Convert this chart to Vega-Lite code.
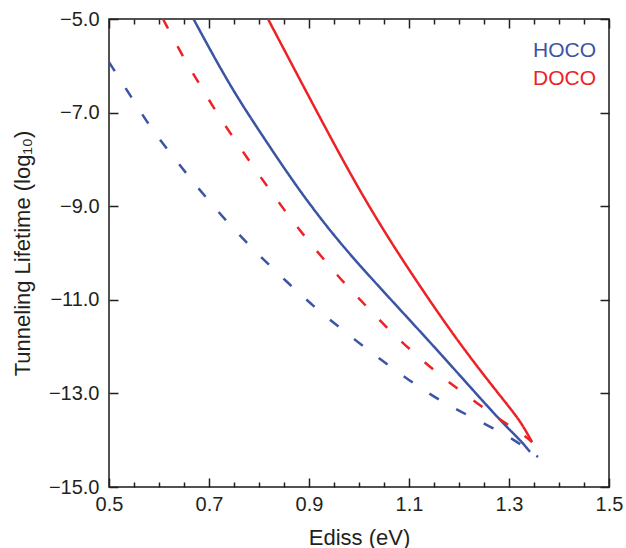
{
  "$schema": "https://vega.github.io/schema/vega-lite/v6.json",
  "width": 500,
  "height": 468,
  "autosize": {"type": "none"},
  "padding": {"left": 109, "top": 19, "right": 17, "bottom": 61},
  "config": {
    "view": {"stroke": "#1a1a1a", "strokeWidth": 1.5},
    "font": "Liberation Sans",
    "axis": {
      "grid": false,
      "domain": false,
      "labelFont": "Liberation Sans",
      "titleFont": "Liberation Sans",
      "labelColor": "#231f20",
      "titleColor": "#231f20",
      "tickColor": "#231f20",
      "tickWidth": 1.5,
      "titleFontWeight": "normal",
      "labelFlush": false,
      "labelOverlap": false
    }
  },
  "data": {
    "values": [
      {"s": "HOCO", "t": "solid", "E": 0.669, "v": -5.0},
      {"s": "HOCO", "t": "solid", "E": 0.708, "v": -5.77},
      {"s": "HOCO", "t": "solid", "E": 0.748, "v": -6.52},
      {"s": "HOCO", "t": "solid", "E": 0.782, "v": -7.09},
      {"s": "HOCO", "t": "solid", "E": 0.816, "v": -7.64},
      {"s": "HOCO", "t": "solid", "E": 0.858, "v": -8.31},
      {"s": "HOCO", "t": "solid", "E": 0.902, "v": -8.97},
      {"s": "HOCO", "t": "solid", "E": 0.962, "v": -9.79},
      {"s": "HOCO", "t": "solid", "E": 1.028, "v": -10.58},
      {"s": "HOCO", "t": "solid", "E": 1.096, "v": -11.37},
      {"s": "HOCO", "t": "solid", "E": 1.162, "v": -12.14},
      {"s": "HOCO", "t": "solid", "E": 1.228, "v": -12.93},
      {"s": "HOCO", "t": "solid", "E": 1.276, "v": -13.5},
      {"s": "HOCO", "t": "solid", "E": 1.308, "v": -13.85},
      {"s": "HOCO", "t": "solid", "E": 1.326, "v": -14.04},
      {"s": "HOCO", "t": "solid", "E": 1.342, "v": -14.25},

      {"s": "DOCO", "t": "solid", "E": 0.818, "v": -5.0},
      {"s": "DOCO", "t": "solid", "E": 0.882, "v": -6.3},
      {"s": "DOCO", "t": "solid", "E": 0.948, "v": -7.63},
      {"s": "DOCO", "t": "solid", "E": 1.002, "v": -8.68},
      {"s": "DOCO", "t": "solid", "E": 1.062, "v": -9.74},
      {"s": "DOCO", "t": "solid", "E": 1.128, "v": -10.81},
      {"s": "DOCO", "t": "solid", "E": 1.196, "v": -11.86},
      {"s": "DOCO", "t": "solid", "E": 1.262, "v": -12.78},
      {"s": "DOCO", "t": "solid", "E": 1.302, "v": -13.31},
      {"s": "DOCO", "t": "solid", "E": 1.326, "v": -13.65},
      {"s": "DOCO", "t": "solid", "E": 1.346, "v": -14.04},

      {"s": "DOCO", "t": "dashed", "E": 0.608, "v": -5.0},
      {"s": "DOCO", "t": "dashed", "E": 0.648, "v": -5.81},
      {"s": "DOCO", "t": "dashed", "E": 0.682, "v": -6.41},
      {"s": "DOCO", "t": "dashed", "E": 0.718, "v": -7.05},
      {"s": "DOCO", "t": "dashed", "E": 0.756, "v": -7.65},
      {"s": "DOCO", "t": "dashed", "E": 0.796, "v": -8.27},
      {"s": "DOCO", "t": "dashed", "E": 0.836, "v": -8.87},
      {"s": "DOCO", "t": "dashed", "E": 0.878, "v": -9.47},
      {"s": "DOCO", "t": "dashed", "E": 0.922, "v": -10.04},
      {"s": "DOCO", "t": "dashed", "E": 0.968, "v": -10.62},
      {"s": "DOCO", "t": "dashed", "E": 1.016, "v": -11.15},
      {"s": "DOCO", "t": "dashed", "E": 1.062, "v": -11.67},
      {"s": "DOCO", "t": "dashed", "E": 1.112, "v": -12.16},
      {"s": "DOCO", "t": "dashed", "E": 1.166, "v": -12.65},
      {"s": "DOCO", "t": "dashed", "E": 1.222, "v": -13.1},
      {"s": "DOCO", "t": "dashed", "E": 1.278, "v": -13.53},
      {"s": "DOCO", "t": "dashed", "E": 1.336, "v": -13.94},
      {"s": "DOCO", "t": "dashed", "E": 1.346, "v": -14.04},

      {"s": "HOCO", "t": "dashed", "E": 0.5, "v": -5.92},
      {"s": "HOCO", "t": "dashed", "E": 0.546, "v": -6.69},
      {"s": "HOCO", "t": "dashed", "E": 0.582, "v": -7.31},
      {"s": "HOCO", "t": "dashed", "E": 0.626, "v": -7.91},
      {"s": "HOCO", "t": "dashed", "E": 0.668, "v": -8.48},
      {"s": "HOCO", "t": "dashed", "E": 0.712, "v": -9.04},
      {"s": "HOCO", "t": "dashed", "E": 0.758, "v": -9.59},
      {"s": "HOCO", "t": "dashed", "E": 0.806, "v": -10.11},
      {"s": "HOCO", "t": "dashed", "E": 0.856, "v": -10.62},
      {"s": "HOCO", "t": "dashed", "E": 0.908, "v": -11.13},
      {"s": "HOCO", "t": "dashed", "E": 0.962, "v": -11.6},
      {"s": "HOCO", "t": "dashed", "E": 1.016, "v": -12.06},
      {"s": "HOCO", "t": "dashed", "E": 1.072, "v": -12.5},
      {"s": "HOCO", "t": "dashed", "E": 1.128, "v": -12.93},
      {"s": "HOCO", "t": "dashed", "E": 1.188, "v": -13.31},
      {"s": "HOCO", "t": "dashed", "E": 1.248, "v": -13.63},
      {"s": "HOCO", "t": "dashed", "E": 1.312, "v": -13.99},
      {"s": "HOCO", "t": "dashed", "E": 1.358, "v": -14.36}
    ]
  },
  "layer": [
    {
      "mark": {"type": "line", "strokeWidth": 2.5, "interpolate": "basis", "clip": true},
      "encoding": {
        "x": {
          "field": "E", "type": "quantitative",
          "scale": {"domain": [0.5, 1.5], "nice": false, "zero": false},
          "axis": {
            "orient": "bottom", "values": [0.5, 0.7, 0.9, 1.1, 1.3, 1.5], "format": ".1f",
            "ticks": false, "labelFontSize": 20, "labelPadding": 7,
            "title": "Ediss (eV)", "titleFontSize": 22, "titlePadding": 13
          }
        },
        "y": {
          "field": "v", "type": "quantitative",
          "scale": {"domain": [-15, -5], "nice": false, "zero": false},
          "axis": {
            "orient": "left", "values": [-15, -13, -11, -9, -7, -5], "format": ".1f",
            "ticks": false, "labelFontSize": 20, "labelPadding": 10,
            "title": "Tunneling Lifetime (log₁₀)", "titleFontSize": 22, "titlePadding": 14
          }
        },
        "color": {
          "field": "s", "type": "nominal",
          "scale": {"domain": ["HOCO", "DOCO"], "range": ["#3b54a4", "#ed2226"]},
          "legend": {
            "title": null, "orient": "none", "legendX": 403, "legendY": 21, "padding": 0,
            "symbolSize": 0, "symbolOpacity": 0, "symbolStrokeWidth": 0,
            "labelFontSize": 21, "labelFont": "Liberation Sans", "labelOffset": 0,
            "rowPadding": 6,
            "labelColor": {"expr": "datum.label == 'HOCO' ? '#3b54a4' : '#ed2226'"}
          }
        },
        "strokeDash": {
          "field": "t", "type": "nominal",
          "scale": {"domain": ["solid", "dashed"], "range": [[1, 0], [11, 20]]},
          "legend": null
        }
      }
    },
    {
      "mark": {"type": "point", "opacity": 0},
      "encoding": {
        "x": {
          "field": "E", "type": "quantitative",
          "axis": {
            "orient": "bottom", "labels": false, "title": null,
            "values": [0.5, 0.55, 0.6, 0.65, 0.7, 0.75, 0.8, 0.85, 0.9, 0.95, 1.0, 1.05, 1.1, 1.15, 1.2, 1.25, 1.3, 1.35, 1.4, 1.45, 1.5],
            "tickSize": {"condition": {"test": "round(datum.value*20)%4==2", "value": -9}, "value": -5}
          }
        },
        "y": {
          "field": "v", "type": "quantitative",
          "axis": {"orient": "left", "labels": false, "title": null, "values": [-15, -13, -11, -9, -7, -5], "tickSize": -9}
        }
      }
    },
    {
      "mark": {"type": "point", "opacity": 0},
      "encoding": {
        "x": {
          "field": "E", "type": "quantitative",
          "axis": {
            "orient": "top", "labels": false, "title": null,
            "values": [0.5, 0.55, 0.6, 0.65, 0.7, 0.75, 0.8, 0.85, 0.9, 0.95, 1.0, 1.05, 1.1, 1.15, 1.2, 1.25, 1.3, 1.35, 1.4, 1.45, 1.5],
            "tickSize": {"condition": {"test": "round(datum.value*20)%4==2", "value": -9}, "value": -5}
          }
        },
        "y": {
          "field": "v", "type": "quantitative",
          "axis": {"orient": "right", "labels": false, "title": null, "values": [-15, -13, -11, -9, -7, -5], "tickSize": -9}
        }
      }
    }
  ],
  "resolve": {"axis": {"x": "independent", "y": "independent"}}
}
